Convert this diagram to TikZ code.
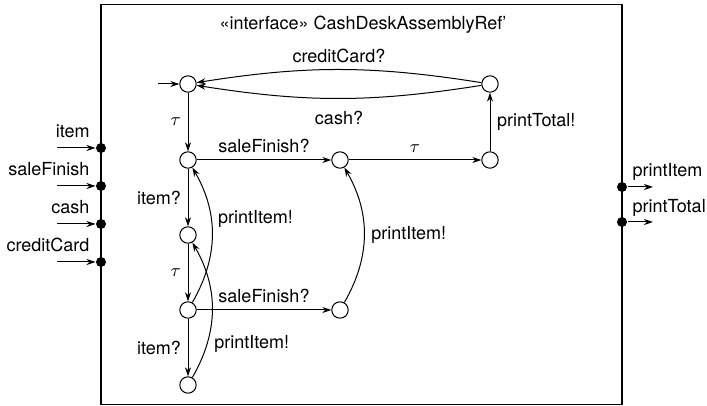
\documentclass[tikz,border=0pt]{standalone}
\usepackage{fontspec}
\setmainfont{TeX Gyre Heros}
\usepackage{tikz}
\usetikzlibrary{arrows.meta, positioning}

\tikzset{
  loc/.style={draw, circle, minimum size=8.2pt, inner sep=0pt},
  port/.style={fill, circle, minimum size=5pt, inner sep=0pt},
  trans/.style={-{Stealth[length=4.5pt,width=3pt]}},
}

\begin{document}
\begin{tikzpicture}[x=0.5pt, y=0.5pt, line width=0.5pt, font=\fontsize{9}{11}\selectfont]
        \useasboundingbox (0,0) rectangle (707,406);

        % frame
        \draw[line width=0.8pt] (101,1.5) rectangle (622,401.5);
        \node[anchor=base] (title) at (363,376) {«interface» CashDeskAssemblyRef'};

        % ports
        \node[port] (pItem) at (101,258) {};
        \node[port] (pSale) at (101,220) {};
        \node[port] (pCash) at (101,182) {};
        \node[port] (pCard) at (101,144) {};
        \node[port] (pPrItem) at (622,219) {};
        \node[port] (pPrTotal) at (622,184) {};
        \coordinate (inItem) at (57,258);
        \coordinate (inSale) at (57,220);
        \coordinate (inCash) at (57,182);
        \coordinate (inCard) at (57,144);
        \coordinate (outPrItem) at (653,219);
        \coordinate (outPrTotal) at (653,184);
        \node[anchor=base east, inner sep=0pt] at (90,268) {item};
        \node[anchor=base east, inner sep=0pt] at (90,230) {saleFinish};
        \node[anchor=base east, inner sep=0pt] at (90,192) {cash};
        \node[anchor=base east, inner sep=0pt] at (90,154) {creditCard};
        \node[anchor=base west, inner sep=0pt] at (632,229) {printItem};
        \node[anchor=base west, inner sep=0pt] at (632,193) {printTotal};

        \draw[trans] (inItem) -- (pItem);
        \draw[trans] (inSale) -- (pSale);
        \draw[trans] (inCash) -- (pCash);
        \draw[trans] (inCard) -- (pCard);
        \draw[trans] (pPrItem) -- (outPrItem);
        \draw[trans] (pPrTotal) -- (outPrTotal);

        % states
        \node[loc] (q0) at (188,322) {};
        \node[loc] (q1) at (490,322) {};
        \node[loc] (q2) at (188,246) {};
        \node[loc] (q3) at (340,246) {};
        \node[loc] (q4) at (490,246) {};
        \node[loc] (q5) at (188,171) {};
        \node[loc] (q6) at (188,96) {};
        \node[loc] (q7) at (340,96) {};
        \node[loc] (q8) at (188,21) {};
        \coordinate (init) at (158,322);

        % transitions
        \draw[trans] (init) -- (q0);
        \draw[trans, bend right=9] (q1) to node[above, inner sep=3pt] {creditCard?} (q0);
        \draw[trans, bend left=9] (q1) to node[below=3pt] {cash?} (q0);
        \draw[trans] (q0) -- node[left] {$\tau$} (q2);
        \draw[trans] (q2) -- node[above] {saleFinish?} (q3);
        \draw[trans] (q3) -- node[above] {$\tau$} (q4);
        \draw[trans] (q4) -- node[right] {printTotal!} (q1);
        \draw[trans] (q2) -- node[left] {item?} (q5);
        \draw[trans] (q5) -- node[left] {$\tau$} (q6);
        \draw[trans] (q6) -- node[left] {item?} (q8);
        \draw[trans] (q6) -- node[above] {saleFinish?} (q7);
        \draw[trans, bend right=30] (q6) to node[right, pos=0.62] {printItem!} (q2);
        \draw[trans, bend right=30] (q8) to node[right, pos=0.25] {printItem!} (q5);
        \draw[trans, bend right=30] (q7) to node[right] {printItem!} (q3);
\end{tikzpicture}
\end{document}
